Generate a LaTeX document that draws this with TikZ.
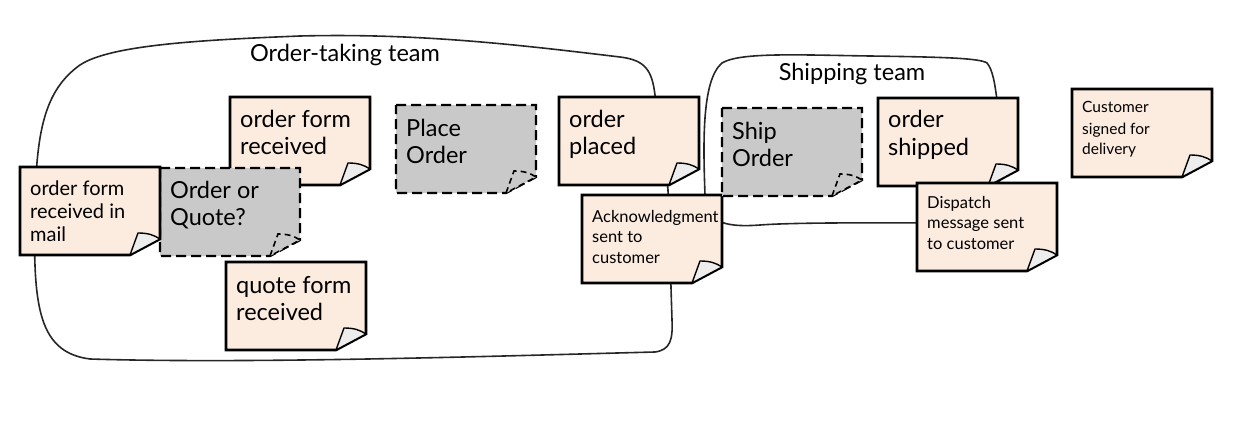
\documentclass[tikz,border=0pt]{standalone}
\usepackage{fontspec}
\setmainfont{Lato}
\usetikzlibrary{calc}
\definecolor{peach}{HTML}{FCEBDF}
\definecolor{notegray}{HTML}{C9C9C9}
\definecolor{foldgray}{HTML}{EDEDED}
% name, x, y, kind (peach/gray), font style, baseline offset, text
\newcommand\stickynote[7]{%
  \begin{scope}[shift={(#2,#3)}]
    \draw[#4note] (0,0) -- (140,0) -- (140,72) -- (110,88) -- (0,88) -- cycle;
    \draw[#4fold] (110,88) -- (118,66) .. controls (128,66) and (134,68) .. (140,72) -- cycle;
  \end{scope}
  \node[notetext,#5,anchor=base west] (#1) at (#2+10,#3+#6) {\parbox[t]{126pt}{\raggedright #7}};
}
\begin{document}
\begin{tikzpicture}[x=1pt,y=-1pt,
  blob/.style={draw=black!85, line width=1.6pt},
  peachnote/.style={draw=black, line width=2.6pt, fill=peach, line join=miter},
  graynote/.style={draw=black, line width=2.4pt, fill=notegray, dash pattern=on 10pt off 5pt},
  peachfold/.style={draw=black, line width=1.4pt, fill=foldgray, line join=round},
  grayfold/.style={draw=black, line width=1.6pt, fill=notegray, dash pattern=on 6pt off 4pt},
  notetext/.style={inner sep=0pt, text=black},
  big/.style={font=\fontsize{23.5}{27.5}\selectfont},
  small/.style={font=\fontsize{20}{23}\selectfont},
  tiny/.style={font=\fontsize{16.5}{20.5}\selectfont},
  tinier/.style={font=\fontsize{15.5}{21}\selectfont},
  teamlabel/.style={font=\fontsize{23.5}{27}\selectfont, inner sep=1pt}
]
\useasboundingbox (0,0) rectangle (1240,428);

% Order-taking team boundary
\draw[blob] (35,200) .. controls (33,300) and (35,352) .. (90,359)
  .. controls (250,364) and (500,356) .. (655,352)
  .. controls (670,350) and (673,340) .. (672,320)
  -- (668,190) .. controls (663,140) and (658,105) .. (655,95)
  .. controls (652,70) and (645,60) .. (620,57)
  .. controls (520,45) and (420,33) .. (300,36)
  .. controls (200,40) and (110,45) .. (80,65)
  .. controls (45,90) and (37,130) .. (35,200);
\node[teamlabel] (otlabel) at (345,55) {Order-taking team};

% Shipping team boundary
\draw[blob] (705,195) .. controls (703,140) and (702,80) .. (722,63)
  .. controls (740,52) and (800,55) .. (870,56)
  .. controls (940,57) and (980,58) .. (987,63)
  .. controls (993,70) and (995,85) .. (997,100)
  -- (1000,200) .. controls (1000,220) and (990,223) .. (960,223)
  .. controls (900,223) and (800,222) .. (760,225)
  .. controls (720,228) and (706,220) .. (705,195);
\node[teamlabel] (shlabel) at (852,74) {Shipping team};

% Sticky notes
\stickynote{ofr}{230}{97}{peach}{big}{30}{order form\\received}
\stickynote{ooq}{160}{168}{gray}{big}{30}{Order or\\Quote?}
\stickynote{ofrm}{20}{167}{peach}{small}{28}{order form\\received in\\mail}
\stickynote{qfr}{226}{262}{peach}{big}{31}{quote form\\received}
\stickynote{po}{396}{105}{gray}{big}{31}{Place\\Order}
\stickynote{opl}{559}{97}{peach}{big}{30}{order\\placed}
\stickynote{ack}{582}{195}{peach}{tiny}{27}{Acknowledgment\\sent to\\customer}
\stickynote{so}{722}{108}{gray}{big}{31}{Ship\\Order}
\stickynote{osh}{878}{98}{peach}{big}{30}{order\\shipped}
\stickynote{dsp}{917}{183}{peach}{tiny}{25}{Dispatch\\message sent\\to customer}
\stickynote{csd}{1072}{89}{peach}{tinier}{24}{Customer\\signed for\\delivery}
\end{tikzpicture}
\end{document}
